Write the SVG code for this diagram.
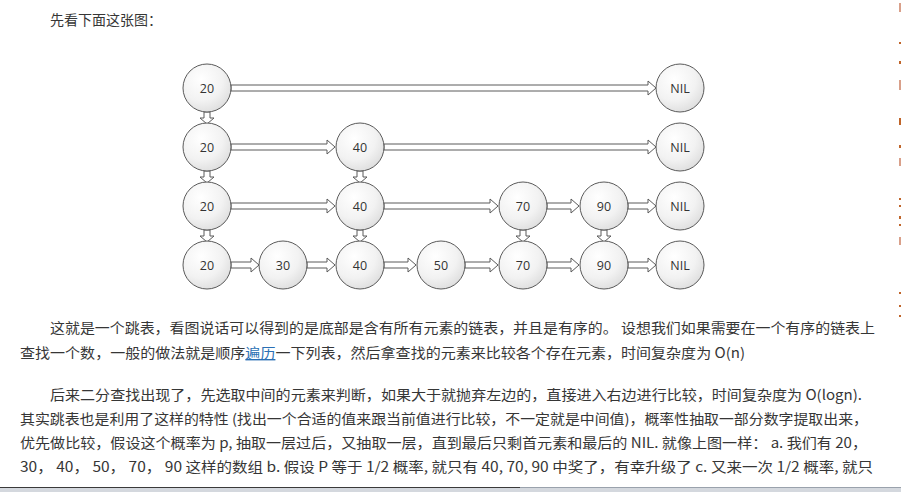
<svg xmlns="http://www.w3.org/2000/svg" width="901" height="492" viewBox="0 0 901 492">
  <defs>
    <radialGradient id="ball" cx="0.38" cy="0.32" r="0.75">
      <stop offset="0" stop-color="#ffffff"/>
      <stop offset="0.6" stop-color="#f2f2f2"/>
      <stop offset="1" stop-color="#dcdcdc"/>
    </radialGradient>
  </defs>
  <style>
    .node circle { fill: url(#ball); stroke: #5a5a5a; stroke-width: 1; }
    .node text { font-family: "Open Sans", "DejaVu Sans", sans-serif; font-size: 12.5px; fill: #333; text-anchor: middle; dominant-baseline: central; }
    .arr { fill: #ffffff; stroke: #5a5a5a; stroke-width: 1; stroke-linejoin: miter; }
    .p { font-family: "Noto Sans CJK SC", "Noto Sans", sans-serif; font-size: 14px; fill: #363636; }
    .link { fill: #2a6fb4; }
  </style>
  <rect width="901" height="492" fill="#ffffff"/>

  <text class="p" x="50" y="25" textLength="112" lengthAdjust="spacing">先看下面这张图：</text>

  <!-- connectors: hollow block arrows -->
  <g id="connectors">
    <!-- level 1 -->
    <polygon class="arr" points="231,85 648,85 648,81 656,88 648,95 648,91 231,91"/>
    <!-- level 2 -->
    <polygon class="arr" points="231,144 327,144 327,140 335,147 327,154 327,150 231,150"/>
    <polygon class="arr" points="384,144 648,144 648,140 656,147 648,154 648,150 384,150"/>
    <!-- level 3 -->
    <polygon class="arr" points="231,203 327,203 327,199 335,206 327,213 327,209 231,209"/>
    <polygon class="arr" points="384,203 490,203 490,199 498,206 490,213 490,209 384,209"/>
    <polygon class="arr" points="547,203 571,203 571,199 579,206 571,213 571,209 547,209"/>
    <polygon class="arr" points="628,203 648,203 648,199 656,206 648,213 648,209 628,209"/>
    <!-- level 4 -->
    <polygon class="arr" points="231,262 251,262 251,258 259,265 251,272 251,268 231,268"/>
    <polygon class="arr" points="307,262 327,262 327,258 335,265 327,272 327,268 307,268"/>
    <polygon class="arr" points="384,262 408,262 408,258 416,265 408,272 408,268 384,268"/>
    <polygon class="arr" points="465,262 490,262 490,258 498,265 490,272 490,268 465,268"/>
    <polygon class="arr" points="547,262 571,262 571,258 579,265 571,272 571,268 547,268"/>
    <polygon class="arr" points="628,262 648,262 648,258 656,265 648,272 648,268 628,268"/>
    <!-- down links -->
    <polygon class="arr" points="204,112 204,118 200,118 207,124 214,118 210,118 210,112"/>
    <polygon class="arr" points="204,171 204,177 200,177 207,183 214,177 210,177 210,171"/>
    <polygon class="arr" points="204,230 204,236 200,236 207,242 214,236 210,236 210,230"/>
    <polygon class="arr" points="357,171 357,177 353,177 360,183 367,177 363,177 363,171"/>
    <polygon class="arr" points="357,230 357,236 353,236 360,242 367,236 363,236 363,230"/>
    <polygon class="arr" points="520,230 520,236 516,236 523,242 530,236 526,236 526,230"/>
    <polygon class="arr" points="601,230 601,236 597,236 604,242 611,236 607,236 607,230"/>
  </g>

  <!-- level 1 -->
  <g id="n1-20" class="node"><circle cx="207" cy="88" r="24"/><text x="207" y="88">20</text></g>
  <g id="n1-nil" class="node"><circle cx="680" cy="88" r="24"/><text x="680" y="88">NIL</text></g>
  <!-- level 2 -->
  <g id="n2-20" class="node"><circle cx="207" cy="147" r="24"/><text x="207" y="147">20</text></g>
  <g id="n2-40" class="node"><circle cx="360" cy="147" r="24"/><text x="360" y="147">40</text></g>
  <g id="n2-nil" class="node"><circle cx="680" cy="147" r="24"/><text x="680" y="147">NIL</text></g>
  <!-- level 3 -->
  <g id="n3-20" class="node"><circle cx="207" cy="206" r="24"/><text x="207" y="206">20</text></g>
  <g id="n3-40" class="node"><circle cx="360" cy="206" r="24"/><text x="360" y="206">40</text></g>
  <g id="n3-70" class="node"><circle cx="523" cy="206" r="24"/><text x="523" y="206">70</text></g>
  <g id="n3-90" class="node"><circle cx="604" cy="206" r="24"/><text x="604" y="206">90</text></g>
  <g id="n3-nil" class="node"><circle cx="680" cy="206" r="24"/><text x="680" y="206">NIL</text></g>
  <!-- level 4 -->
  <g id="n4-20" class="node"><circle cx="207" cy="265" r="24"/><text x="207" y="265">20</text></g>
  <g id="n4-30" class="node"><circle cx="283" cy="265" r="24"/><text x="283" y="265">30</text></g>
  <g id="n4-40" class="node"><circle cx="360" cy="265" r="24"/><text x="360" y="265">40</text></g>
  <g id="n4-50" class="node"><circle cx="441" cy="265" r="24"/><text x="441" y="265">50</text></g>
  <g id="n4-70" class="node"><circle cx="523" cy="265" r="24"/><text x="523" y="265">70</text></g>
  <g id="n4-90" class="node"><circle cx="604" cy="265" r="24"/><text x="604" y="265">90</text></g>
  <g id="n4-nil" class="node"><circle cx="680" cy="265" r="24"/><text x="680" y="265">NIL</text></g>

  <!-- body text -->
  <text class="p" x="50" y="333" textLength="825" lengthAdjust="spacingAndGlyphs">这就是一个跳表，看图说话可以得到的是底部是含有所有元素的链表，并且是有序的。 设想我们如果需要在一个有序的链表上</text>
  <text class="p" x="20" y="358" textLength="725" lengthAdjust="spacingAndGlyphs">查找一个数，一般的做法就是顺序<tspan class="link" text-decoration="underline">遍历</tspan>一下列表，然后拿查找的元素来比较各个存在元素，时间复杂度为 O(n)</text>

  <text class="p" x="50" y="400" textLength="812" lengthAdjust="spacingAndGlyphs">后来二分查找出现了，先选取中间的元素来判断，如果大于就抛弃左边的，直接进入右边进行比较，时间复杂度为 O(logn).</text>
  <text class="p" x="20" y="424" textLength="848" lengthAdjust="spacingAndGlyphs">其实跳表也是利用了这样的特性 (找出一个合适的值来跟当前值进行比较，不一定就是中间值)，概率性抽取一部分数字提取出来，</text>
  <text class="p" x="20" y="448" textLength="847" lengthAdjust="spacingAndGlyphs">优先做比较，假设这个概率为 p, 抽取一层过后，又抽取一层，直到最后只剩首元素和最后的 NIL. 就像上图一样： a. 我们有 20，</text>
  <text class="p" x="20" y="472" textLength="853" lengthAdjust="spacingAndGlyphs">30， 40， 50， 70， 90 这样的数组 b. 假设 P 等于 1/2 概率, 就只有 40, 70, 90 中奖了，有幸升级了 c. 又来一次 1/2 概率, 就只</text>

  <!-- bottom bar -->
  <rect x="0" y="487" width="901" height="5" fill="#d4d8de"/>
  <line x1="0" y1="487.5" x2="520" y2="487.5" stroke="#3a3a3a" stroke-width="1"/>
  <line x1="520" y1="487.5" x2="901" y2="487.5" stroke="#9aa2ac" stroke-width="1"/>

  <!-- right margin marks -->
  <g fill="#d9a08a">
    <rect x="899" y="3" width="2" height="9"/>
    <rect x="899" y="80" width="2" height="10"/>
    <rect x="899" y="158" width="2" height="8"/>
    <rect x="899" y="237" width="2" height="8"/>
  </g>
  <g fill="#c0652a">
    <rect x="899" y="42" width="2" height="2"/>
    <rect x="899" y="61" width="2" height="3"/>
    <rect x="899" y="118" width="2" height="7"/>
    <rect x="899" y="145" width="2" height="3"/>
    <rect x="899" y="198" width="2" height="2"/>
    <rect x="899" y="205" width="2" height="2"/>
    <rect x="899" y="216" width="2" height="3"/>
    <rect x="899" y="224" width="2" height="2"/>
    <rect x="899" y="292" width="2" height="2"/>
    <rect x="899" y="305" width="2" height="2"/>
    <rect x="899" y="315" width="2" height="2"/>
  </g>
</svg>
